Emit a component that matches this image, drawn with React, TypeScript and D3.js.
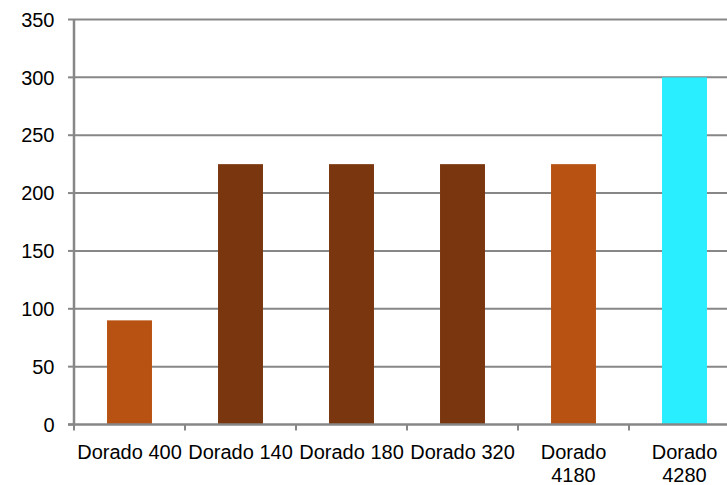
import React from "react";
import * as d3 from "d3";

const categories = ["Dorado 400", "Dorado 140", "Dorado 180", "Dorado 320", "Dorado 4180", "Dorado 4280"];
const categoryLines = [["Dorado 400"], ["Dorado 140"], ["Dorado 180"], ["Dorado 320"], ["Dorado", "4180"], ["Dorado", "4280"]];
const values = [90, 225, 225, 225, 225, 300];
const colors = ["#B85213", "#7A360F", "#7A360F", "#7A360F", "#B85213", "#28EEFF"];
const yTicks = [0, 50, 100, 150, 200, 250, 300, 350];

export default function App() {
  const W = 727, H = 485;
  const left = 74, right = 740, top = 19.5, bottom = 424.5;
  const x = d3.scaleBand<string>().domain(categories).range([left, right]).paddingInner(0.595).paddingOuter(0.2975);
  const xb = d3.scaleBand<string>().domain(categories).range([left, right]);
  const y = d3.scaleLinear().domain([0, 350]).range([bottom, top]);
  const font = "'Liberation Sans', Arial, sans-serif";
  const fs = 20;
  const grid = "#878787";
  return (
    <svg width={W} height={H} style={{ position: "absolute", left: 0, top: 0, background: "#fff" }}>
      {yTicks.map((t) => (
        <g key={t}>
          {t > 0 && <line x1={left} x2={W} y1={y(t)} y2={y(t)} stroke={grid} strokeWidth={2} />}
          <line x1={left - 6} x2={left} y1={y(t)} y2={y(t)} stroke={grid} strokeWidth={2} />
          <text x={54.5} y={y(t)} dy="0.36em" textAnchor="end" fontFamily={font} fontSize={fs} fill="#000">{t}</text>
        </g>
      ))}
      {categories.map((c, i) => (
        <rect key={c} x={x(c)} width={x.bandwidth()} y={y(values[i])} height={y(0) - y(values[i])} fill={colors[i]} />
      ))}
      <line x1={left} x2={left} y1={top} y2={bottom + 1} stroke={grid} strokeWidth={2.5} />
      <line x1={left - 6} x2={W} y1={bottom} y2={bottom} stroke={grid} strokeWidth={2.5} />
      {categories.map((c, i) => (
        <line key={"t" + c} x1={(xb(c) as number)} x2={(xb(c) as number)} y1={bottom} y2={bottom + 6} stroke={grid} strokeWidth={2} />
      ))}
      {categories.map((c, i) => {
        const cx = (xb(c) as number) + xb.bandwidth() / 2;
        return (
          <text key={"l" + c} x={cx} y={459} textAnchor="middle" fontFamily={font} fontSize={fs} fill="#000">
            {categoryLines[i].map((ln, j) => (
              <tspan key={j} x={cx} y={459 + j * 22.5}>{ln}</tspan>
            ))}
          </text>
        );
      })}
    </svg>
  );
}
